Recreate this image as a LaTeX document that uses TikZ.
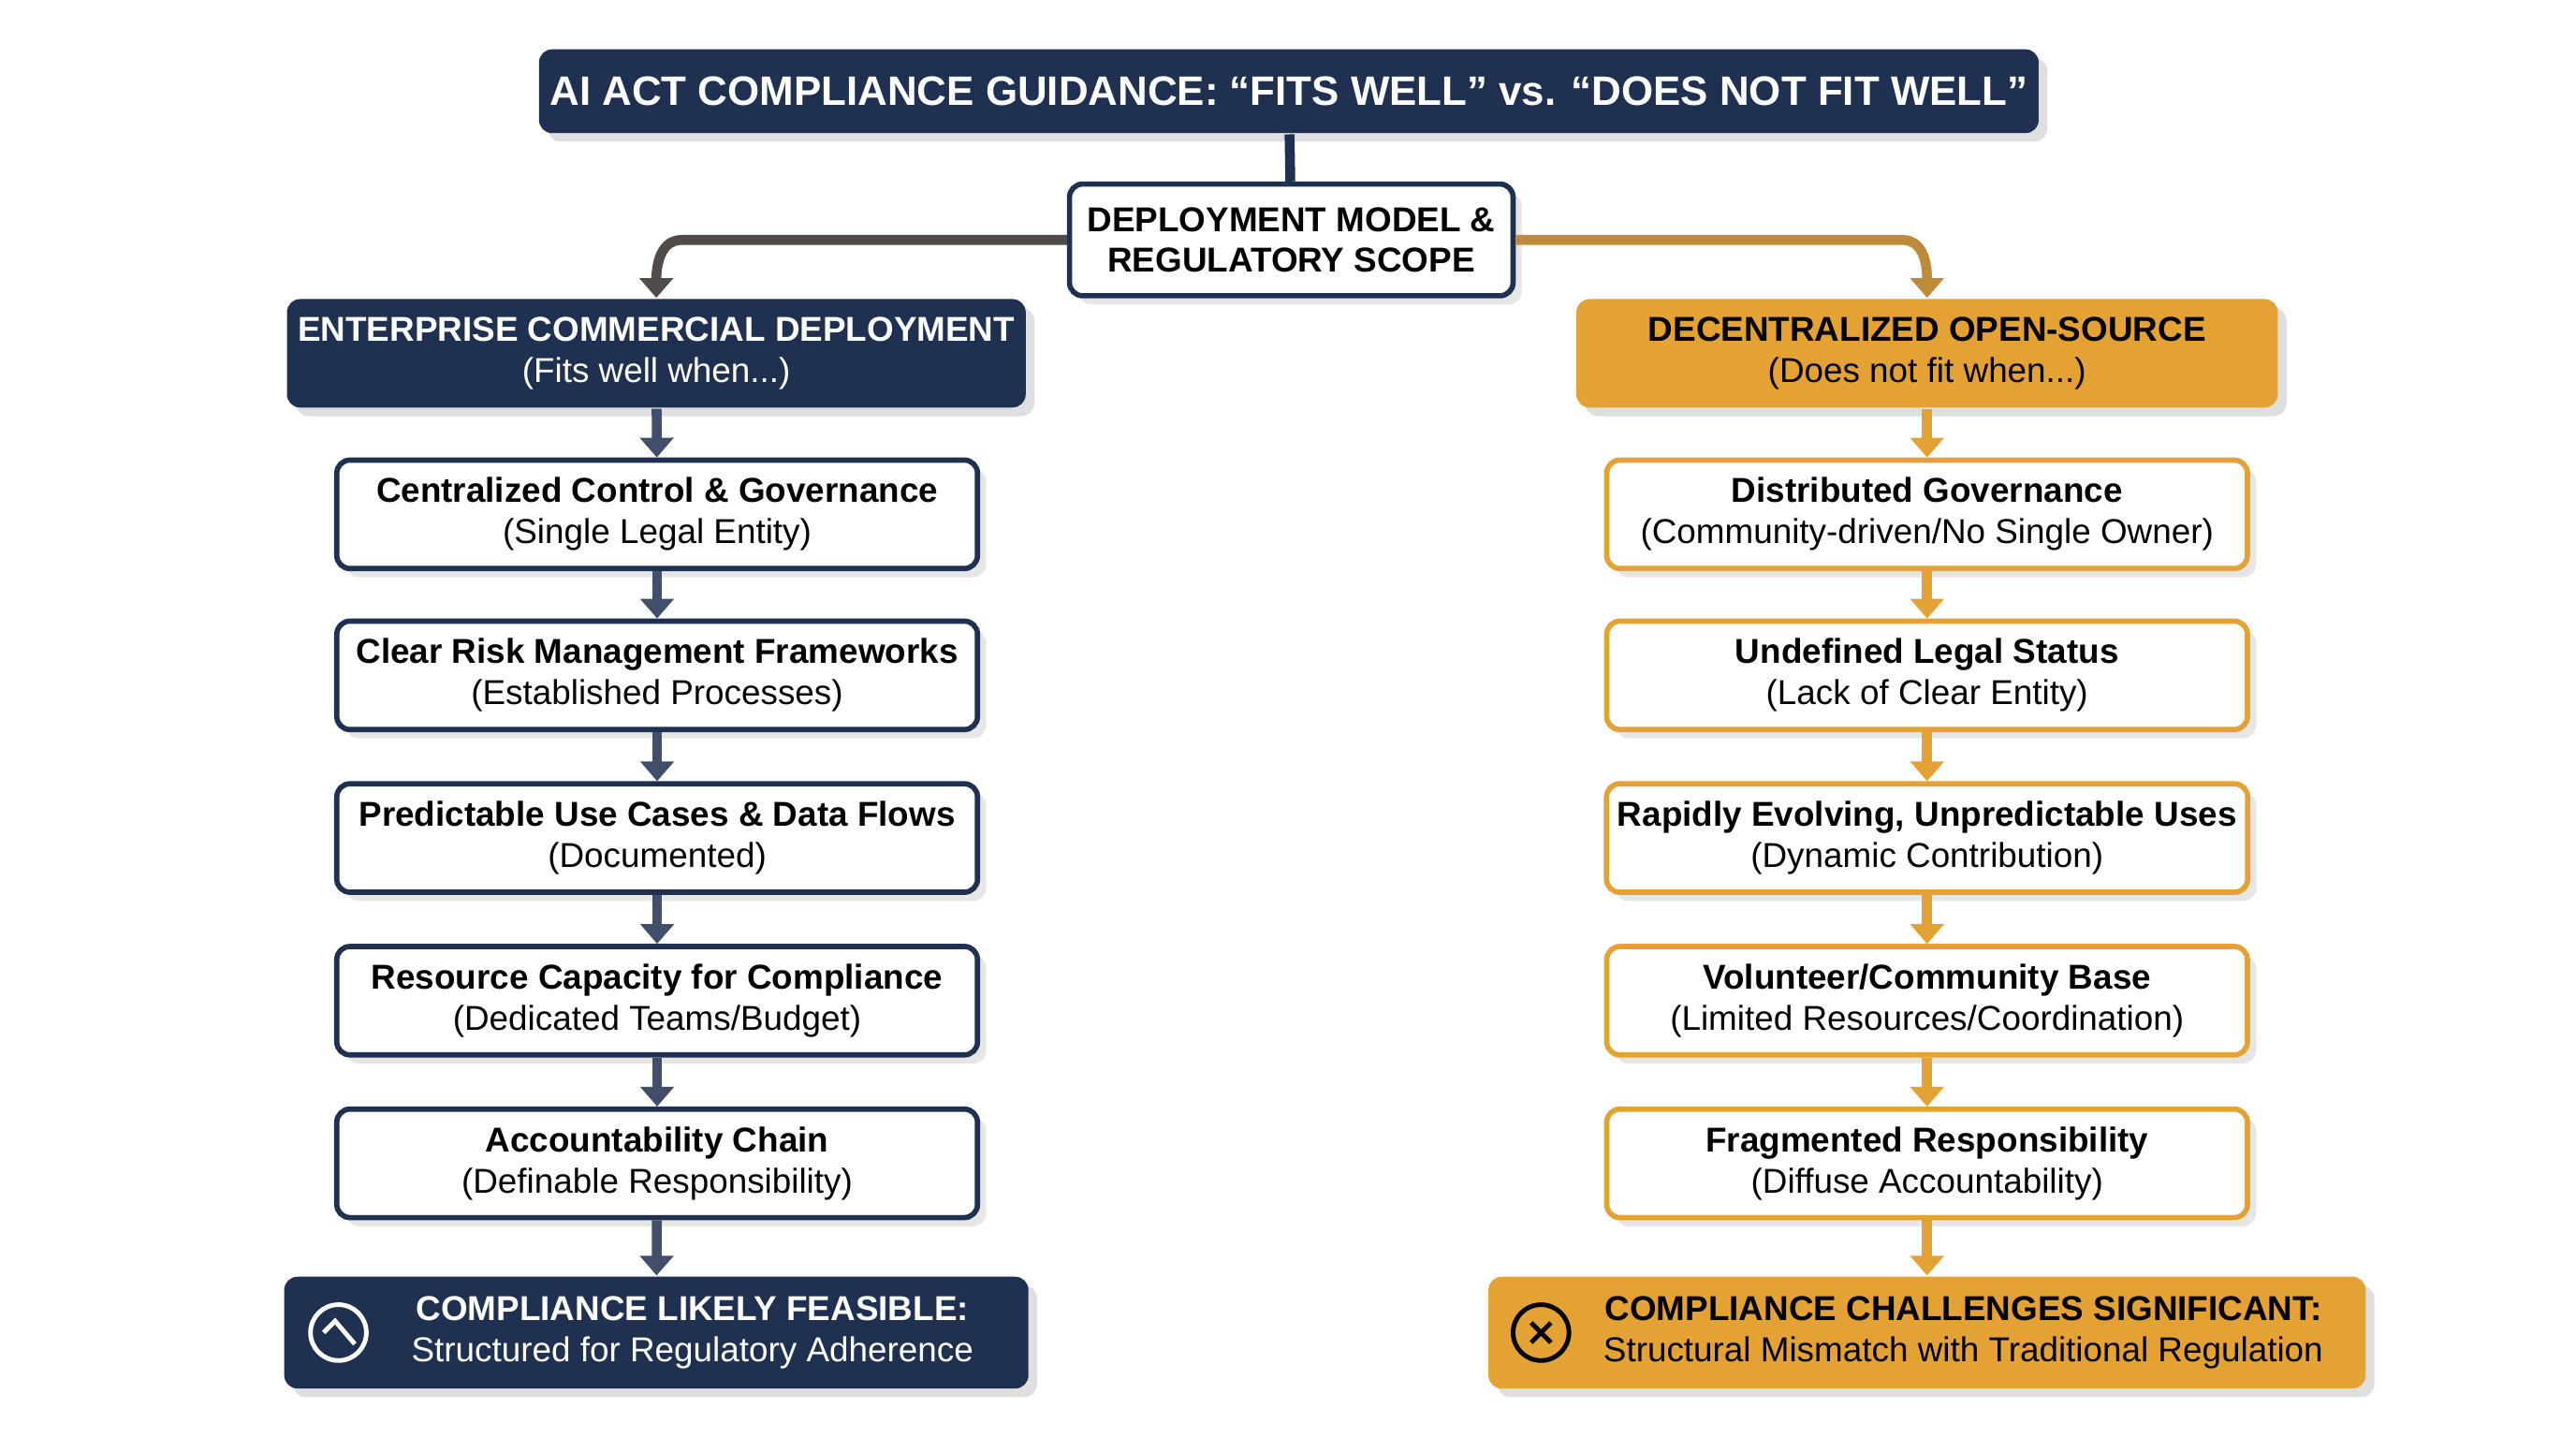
\documentclass[tikz,border=0pt]{standalone}
\usepackage{fontspec}
\setmainfont{Liberation Sans}
\usetikzlibrary{arrows.meta,shadows}
\definecolor{navy}{HTML}{1F3050}
\definecolor{gold}{HTML}{E5A234}
\tikzset{every picture/.style={line width=0.75pt},
  hdr/.style={rounded corners=4pt,minimum width=213.5pt,minimum height=33pt,align=center,font=\fontsize{10.5}{12.5}\selectfont,drop shadow={opacity=0.25}},
  stepbox/.style={draw,fill=white,line width=1.6pt,rounded corners=4pt,minimum width=195pt,minimum height=33pt,align=center,font=\fontsize{10.5}{12.5}\selectfont,drop shadow={opacity=0.2}},
  flow/.style={line width=3pt,-{Triangle[length=6pt,width=10pt]}}}
\begin{document}
\begin{tikzpicture}[x=0.5pt,y=0.5pt,yscale=-1,xscale=1]
\useasboundingbox (0,0) rectangle (1568,875);

% Title
\node [hdr,fill=navy,text=white,minimum width=451.5pt,minimum height=25.5pt,font=\bfseries\fontsize{12.5}{15}\selectfont] (title) at (784.5,55.5) {AI ACT COMPLIANCE GUIDANCE: “FITS WELL” vs. “DOES NOT FIT WELL”};
% Scope
\node [stepbox,draw=navy,minimum width=135pt,minimum height=34pt,font=\bfseries\fontsize{10.5}{12.5}\selectfont] (scope) at (786,146) {DEPLOYMENT MODEL \&\\REGULATORY SCOPE};
\draw [navy,line width=3pt] (title) -- (scope);

% Headers
\node [hdr,fill=navy,text=white] (lhead) at (399.5,215) {\textbf{ENTERPRISE COMMERCIAL DEPLOYMENT}\\(Fits well when...)};
\node [hdr,fill=gold,text=black] (rhead) at (1173,215) {\textbf{DECENTRALIZED OPEN-SOURCE}\\(Does not fit when...)};
\draw [flow,navy!75!gold] (scope.west) -- (415,146) to[out=180,in=-90] (lhead.north);
\draw [flow,gold!80!navy] (scope.east) -- (1158,146) to[out=0,in=-90] (rhead.north);

% Left column
\node [stepbox,draw=navy] (l1) at (400,313) {\textbf{Centralized Control \& Governance}\\(Single Legal Entity)};
\node [stepbox,draw=navy] (l2) at (400,411) {\textbf{Clear Risk Management Frameworks}\\(Established Processes)};
\node [stepbox,draw=navy] (l3) at (400,510) {\textbf{Predictable Use Cases \& Data Flows}\\(Documented)};
\node [stepbox,draw=navy] (l4) at (400,609) {\textbf{Resource Capacity for Compliance}\\(Dedicated Teams/Budget)};
\node [stepbox,draw=navy] (l5) at (400,708) {\textbf{Accountability Chain}\\(Definable Responsibility)};
\node [hdr,fill=navy,text=white,minimum width=226.5pt,minimum height=34pt] (lend) at (399.5,811) {\hspace{22pt}\textbf{COMPLIANCE LIKELY FEASIBLE:}\\\hspace{22pt}Structured for Regulatory Adherence};
\node [circle,draw=white,line width=1.4pt,minimum size=17pt] (lok) at (206,811) {};
\draw [white,line width=1.4pt] ([xshift=-4.5pt]lok.center) -- ([xshift=-1pt,yshift=-3.5pt]lok.center) -- ([xshift=5pt,yshift=3.5pt]lok.center);

% Right column
\node [stepbox,draw=gold] (r1) at (1173,313) {\textbf{Distributed Governance}\\(Community-driven/No Single Owner)};
\node [stepbox,draw=gold] (r2) at (1173,411) {\textbf{Undefined Legal Status}\\(Lack of Clear Entity)};
\node [stepbox,draw=gold] (r3) at (1173,510) {\textbf{Rapidly Evolving, Unpredictable Uses}\\(Dynamic Contribution)};
\node [stepbox,draw=gold] (r4) at (1173,609) {\textbf{Volunteer/Community Base}\\(Limited Resources/Coordination)};
\node [stepbox,draw=gold] (r5) at (1173,708) {\textbf{Fragmented Responsibility}\\(Diffuse Accountability)};
\node [hdr,fill=gold,text=black,minimum width=267pt,minimum height=34pt] (rend) at (1173,811) {\hspace{22pt}\textbf{COMPLIANCE CHALLENGES SIGNIFICANT:}\\\hspace{22pt}Structural Mismatch with Traditional Regulation};
\node [circle,draw=black,line width=1.4pt,minimum size=17pt] (rno) at (938,811) {};
\draw [black,line width=1.4pt] ([shift={(-3pt,-3pt)}]rno.center) -- ([shift={(3pt,3pt)}]rno.center)
  ([shift={(-3pt,3pt)}]rno.center) -- ([shift={(3pt,-3pt)}]rno.center);

% Flow arrows
\foreach \a/\b in {lhead/l1,l1/l2,l2/l3,l3/l4,l4/l5,l5/lend}
  \draw [flow,navy!85!white] (\a) -- (\b);
\foreach \a/\b in {rhead/r1,r1/r2,r2/r3,r3/r4,r4/r5,r5/rend}
  \draw [flow,gold] (\a) -- (\b);

\end{tikzpicture}
\end{document}
